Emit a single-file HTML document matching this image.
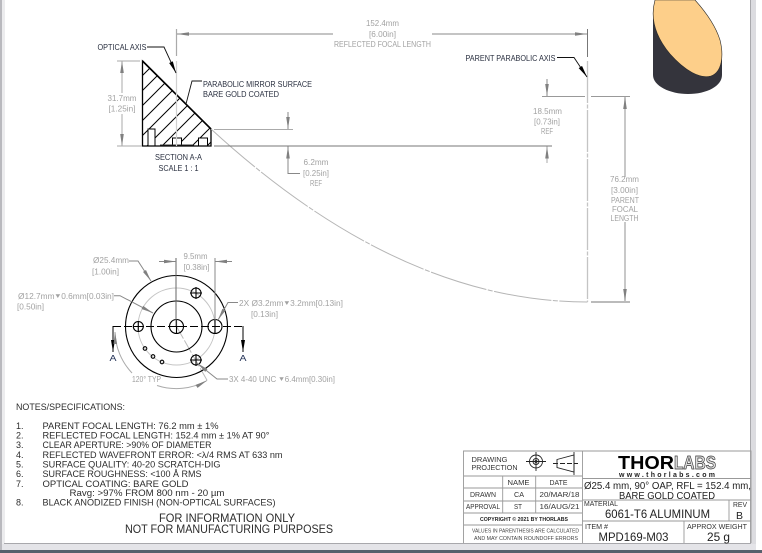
<!DOCTYPE html>
<html><head><meta charset="utf-8"><style>
html,body{margin:0;padding:0;background:#fff}
svg{display:block}
text{font-family:"Liberation Sans",sans-serif;font-size:8px}
.g text,text.g{fill:#a2a2a2}
.d text,text.d{fill:#2a3040}
.n text{font-size:9px;fill:#2c2c2c}
.t text{fill:#333}
</style></head><body>
<svg width="762" height="553" viewBox="0 0 762 553" xmlns="http://www.w3.org/2000/svg">
<defs>
<marker id="ag" viewBox="0 0 12 6" refX="12" refY="3" markerWidth="12" markerHeight="6" markerUnits="userSpaceOnUse" orient="auto-start-reverse"><path d="M0 1.2L12 3L0 4.8z" fill="#808080"/></marker>
<marker id="ak" viewBox="0 0 12 6" refX="12" refY="3" markerWidth="12" markerHeight="6" markerUnits="userSpaceOnUse" orient="auto"><path d="M0 1L12 3L0 5z" fill="#000"/></marker>
<pattern id="h" x="142" y="61" width="15" height="15" patternUnits="userSpaceOnUse"><path d="M-2 17L17 -2M-2 2L2 -2M13 17L17 13" stroke="#000" stroke-width="1"/></pattern>
</defs>
<rect width="762" height="553" fill="#fff"/>
<!-- window chrome -->
<rect x="0" y="0" width="2" height="553" fill="#b9b9be"/>
<rect x="2" y="0" width="3" height="545" fill="#ececee"/>
<rect x="751" y="0" width="5" height="545" fill="#dcdce0"/>
<rect x="750" y="0" width="1" height="544" fill="#a8a8ac"/>
<rect x="2" y="544" width="754" height="6" fill="#e4e4e8"/>
<rect x="4" y="543" width="747" height="1" fill="#a8a8ac"/>
<rect x="0" y="550" width="762" height="3" fill="#56606c"/>

<!-- section view -->
<path d="M142.5 61L211 129V146H142.5z" fill="url(#h)"/>
<rect x="148" y="129" width="7" height="17" fill="#fff" stroke="#000"/>
<rect x="172.5" y="138" width="9" height="8" fill="#fff" stroke="#000"/>
<rect x="198.5" y="138" width="9" height="8" fill="#fff" stroke="#000"/>
<rect x="160" y="144.5" width="34" height="2" fill="#333"/>
<path d="M142.5 61L211 129V146H142.5z" fill="none" stroke="#000" stroke-width="1.3"/>
<path d="M142.5 61L211 129" fill="none" stroke="#000" stroke-width="1.6"/>
<path d="M176.5 61V146" stroke="#d0d0d0" stroke-width="1.2"/>

<!-- parabola and axes -->
<path d="M211 129Q399.25 302 587.5 302" fill="none" stroke="#b5b5b5" stroke-width="1" stroke-dasharray="58 1.5 5 1.5"/>
<path d="M587.5 61V302" fill="none" stroke="#c4c4c4" stroke-width="1.3" stroke-dasharray="42 1.5 4 1.5"/>

<!-- dims grey -->
<g fill="none" stroke="#888" stroke-width="1">
<path d="M176.5 29V56" stroke="#aaa" stroke-width="1.2"/>
<path d="M587.5 29V57" stroke="#777"/>
<path d="M333 34H177" marker-end="url(#ag)"/>
<path d="M432 34H587" marker-end="url(#ag)"/>
<path d="M117 61H140M117 146H142" stroke="#aaa"/>
<path d="M122 93V61" stroke="#aaa" marker-end="url(#ag)"/>
<path d="M122 114V146" stroke="#aaa" marker-end="url(#ag)"/>
<path d="M214 129.5H293" stroke="#aaa"/>
<path d="M214 146H552" stroke="#777"/>
<path d="M288 112V129" marker-end="url(#ag)"/>
<path d="M300 173.5H288V146.5" marker-end="url(#ag)"/>
<path d="M542 96.5H585M591 96.5H630" stroke="#999"/>
<path d="M547 79V96" marker-end="url(#ag)"/>
<path d="M547 163V146.5" stroke="#aaa" marker-end="url(#ag)"/>
<path d="M625 97V177" stroke="#b0b0b0" stroke-width="1.4" marker-start="url(#ag)"/>
<path d="M625 222V301" stroke="#b0b0b0" stroke-width="1.4" marker-end="url(#ag)"/>
<path d="M591 302H630" stroke="#777"/>
</g>

<!-- dark leaders -->
<g fill="none" stroke="#111" stroke-width="0.9">
<path d="M147 47H164L176 73" marker-end="url(#ak)"/>
<path d="M202 81H192L186 104"/>
<path d="M557 57.5H574L587 77" marker-end="url(#ak)"/>
</g>

<!-- labels top -->
<g class="d">
<text x="97.5" y="50" textLength="49" lengthAdjust="spacingAndGlyphs">OPTICAL AXIS</text>
<text x="203" y="87" textLength="109" lengthAdjust="spacingAndGlyphs">PARABOLIC MIRROR SURFACE</text>
<text x="203" y="97" textLength="76" lengthAdjust="spacingAndGlyphs">BARE GOLD COATED</text>
<text x="155" y="160" textLength="47" lengthAdjust="spacingAndGlyphs">SECTION A-A</text>
<text x="158.5" y="171" textLength="40" lengthAdjust="spacingAndGlyphs">SCALE 1 : 1</text>
<text x="465.5" y="61" textLength="90" lengthAdjust="spacingAndGlyphs">PARENT PARABOLIC AXIS</text>
</g>
<g class="g">
<text x="366" y="26" textLength="33" lengthAdjust="spacingAndGlyphs">152.4mm</text>
<text x="369" y="37" textLength="27" lengthAdjust="spacingAndGlyphs">[6.00in]</text>
<text x="334" y="47" textLength="97" lengthAdjust="spacingAndGlyphs">REFLECTED FOCAL LENGTH</text>
<text x="107.5" y="101" textLength="29" lengthAdjust="spacingAndGlyphs">31.7mm</text>
<text x="108.5" y="111.5" textLength="27" lengthAdjust="spacingAndGlyphs">[1.25in]</text>
<text x="303.5" y="165" textLength="25" lengthAdjust="spacingAndGlyphs">6.2mm</text>
<text x="303" y="176" textLength="26" lengthAdjust="spacingAndGlyphs">[0.25in]</text>
<text x="310" y="186" textLength="12" lengthAdjust="spacingAndGlyphs">REF</text>
<text x="533" y="114" textLength="29" lengthAdjust="spacingAndGlyphs">18.5mm</text>
<text x="534" y="124.5" textLength="26" lengthAdjust="spacingAndGlyphs">[0.73in]</text>
<text x="541" y="134" textLength="12" lengthAdjust="spacingAndGlyphs">REF</text>
<text x="610" y="182" textLength="29" lengthAdjust="spacingAndGlyphs">76.2mm</text>
<text x="611" y="193" textLength="27" lengthAdjust="spacingAndGlyphs">[3.00in]</text>
<text x="611" y="203" textLength="28" lengthAdjust="spacingAndGlyphs">PARENT</text>
<text x="612" y="212" textLength="26" lengthAdjust="spacingAndGlyphs">FOCAL</text>
<text x="610.5" y="221" textLength="28" lengthAdjust="spacingAndGlyphs">LENGTH</text>
</g>

<!-- plan view -->
<circle cx="176.5" cy="326.5" r="38.5" fill="none" stroke="#c4c4c4" stroke-width="1"/>
<path d="M176.5 326.5L208 382" stroke="#bbb" stroke-width="1" stroke-dasharray="14 2"/>
<g fill="none" stroke="#000" stroke-width="1.1">
<circle cx="176.5" cy="326.5" r="51"/>
<circle cx="176.5" cy="326.5" r="25.5"/>
<circle cx="176.5" cy="326.5" r="7"/>
<circle cx="138.3" cy="326.5" r="5"/>
<circle cx="215" cy="326.5" r="7"/>
<circle cx="196" cy="293" r="5"/>
<circle cx="196" cy="360" r="5"/>
<circle cx="145" cy="348.5" r="1.8"/>
<circle cx="153" cy="356.5" r="1.8"/>
<circle cx="162" cy="362" r="1.8"/>
<path d="M169 326.5H184M176.5 319V334M133 326.5H144M138.3 321V332M190 293H202M196 287V299M190 360H202M196 354V366M215 319V334"/>
</g>
<path d="M113 326.5H243" stroke="#000" stroke-width="1.1" stroke-dasharray="8 3"/>
<path d="M113 326V352" stroke="#000" stroke-width="1" marker-end="url(#ak)"/>
<path d="M243 326V352" stroke="#000" stroke-width="1" marker-end="url(#ak)"/>
<text x="109.5" y="361" textLength="7" lengthAdjust="spacingAndGlyphs" style="fill:#1a2a50;font-size:8px">A</text>
<text x="239.5" y="361" textLength="7" lengthAdjust="spacingAndGlyphs" style="fill:#1a2a50;font-size:8px">A</text>
<g fill="none" stroke="#888" stroke-width="1">
<path d="M176 258V326" stroke="#666"/>
<path d="M215 258V320" stroke="#888"/>
<path d="M159 261.5H176" marker-end="url(#ag)"/>
<path d="M232 261.5H215" marker-end="url(#ag)"/>
<path d="M129 261H138L151 281" marker-end="url(#ag)"/>
<path d="M114 295.7H120L153 313" marker-end="url(#ag)"/>
<path d="M238 302.5H228L218 320" marker-end="url(#ag)"/>
<path d="M228 379H217L197 363" marker-end="url(#ag)"/>
<path d="M132 373A62 62 0 0 1 115 332" stroke="#aaa" marker-end="url(#ag)"/>
<path d="M157 385.5A62 62 0 0 0 207 380.5" stroke="#aaa" marker-end="url(#ag)"/>
</g>
<g class="g">
<text x="93" y="263" textLength="36" lengthAdjust="spacingAndGlyphs">Ø25.4mm</text>
<text x="92" y="274.5" textLength="27" lengthAdjust="spacingAndGlyphs">[1.00in]</text>
<text x="183.5" y="259" textLength="24" lengthAdjust="spacingAndGlyphs">9.5mm</text>
<text x="183.5" y="270" textLength="26" lengthAdjust="spacingAndGlyphs">[0.38in]</text>
<text x="18" y="299" textLength="96" lengthAdjust="spacingAndGlyphs">Ø12.7mm⯆0.6mm[0.03in]</text>
<text x="17" y="309.5" textLength="27" lengthAdjust="spacingAndGlyphs">[0.50in]</text>
<text x="239" y="306" textLength="104" lengthAdjust="spacingAndGlyphs">2X Ø3.2mm⯆3.2mm[0.13in]</text>
<text x="251" y="317" textLength="27" lengthAdjust="spacingAndGlyphs">[0.13in]</text>
<text x="229" y="382" textLength="106" lengthAdjust="spacingAndGlyphs">3X 4-40 UNC ⯆6.4mm[0.30in]</text>
<text x="132" y="382" textLength="29" lengthAdjust="spacingAndGlyphs">120° TYP</text>
</g>

<!-- notes -->
<g class="n">
<text x="16" y="410" textLength="109" lengthAdjust="spacingAndGlyphs">NOTES/SPECIFICATIONS:</text>
<text x="16" y="429">1.</text>
<text x="16" y="438.5">2.</text>
<text x="16" y="448">3.</text>
<text x="16" y="458">4.</text>
<text x="16" y="467.5">5.</text>
<text x="16" y="477">6.</text>
<text x="16" y="487">7.</text>
<text x="16" y="505.5">8.</text>
<text x="42.5" y="429" textLength="176" lengthAdjust="spacingAndGlyphs">PARENT FOCAL LENGTH: 76.2 mm ± 1%</text>
<text x="42.5" y="438.5" textLength="227" lengthAdjust="spacingAndGlyphs">REFLECTED FOCAL LENGTH: 152.4 mm ± 1% AT 90°</text>
<text x="42.5" y="448" textLength="169" lengthAdjust="spacingAndGlyphs">CLEAR APERTURE: &gt;90% OF DIAMETER</text>
<text x="42.5" y="458" textLength="240" lengthAdjust="spacingAndGlyphs">REFLECTED WAVEFRONT ERROR: &lt;λ/4 RMS AT 633 nm</text>
<text x="42.5" y="467.5" textLength="178" lengthAdjust="spacingAndGlyphs">SURFACE QUALITY: 40-20 SCRATCH-DIG</text>
<text x="42.5" y="477" textLength="159" lengthAdjust="spacingAndGlyphs">SURFACE ROUGHNESS: &lt;100 Å RMS</text>
<text x="42.5" y="487" textLength="146" lengthAdjust="spacingAndGlyphs">OPTICAL COATING: BARE GOLD</text>
<text x="69.5" y="496" textLength="155" lengthAdjust="spacingAndGlyphs">Ravg: &gt;97% FROM 800 nm - 20 µm</text>
<text x="42.5" y="505.5" textLength="233" lengthAdjust="spacingAndGlyphs">BLACK ANODIZED FINISH (NON-OPTICAL SURFACES)</text>
<text x="159" y="522" textLength="136" lengthAdjust="spacingAndGlyphs" style="font-size:12px">FOR INFORMATION ONLY</text>
<text x="125" y="533" textLength="208" lengthAdjust="spacingAndGlyphs" style="font-size:12px">NOT FOR MANUFACTURING PURPOSES</text>
</g>

<!-- title block -->
<g fill="none" stroke="#999" stroke-width="0.9">
<path d="M463.5 543V451H751V543"/>
<path d="M582.5 451V543"/>
<path d="M464 476H582M464 488H582M464 501H582M464 513H582M464 525H582"/>
<path d="M502.7 476V513M535.7 476V513"/>
<path d="M582.5 478.5H751M582.5 500H751M582.5 521H751"/>
<path d="M729 500V521M684 521V543"/>
</g>
<g fill="none" stroke="#222" stroke-width="0.9">
<circle cx="536" cy="461.5" r="6.5"/><circle cx="536" cy="461.5" r="3"/>
<circle cx="536" cy="461.5" r="1" fill="#222"/>
<path d="M526 461.5H546M536 452V471"/>
<path d="M557 459.5L574 455V472L557 467.5z"/>
<path d="M574 452V475"/>
<path d="M553 463.5H578" stroke-dasharray="5 2"/>
</g>
<g class="t">
<text x="471.5" y="462" textLength="36" lengthAdjust="spacingAndGlyphs" style="font-size:7.5px">DRAWING</text>
<text x="471.5" y="470" textLength="46" lengthAdjust="spacingAndGlyphs" style="font-size:7.5px">PROJECTION</text>
<text x="507.5" y="485" textLength="22" lengthAdjust="spacingAndGlyphs" style="font-size:7.5px">NAME</text>
<text x="549.5" y="485" textLength="18" lengthAdjust="spacingAndGlyphs" style="font-size:7.5px">DATE</text>
<text x="470" y="497" textLength="26" lengthAdjust="spacingAndGlyphs" style="font-size:7px">DRAWN</text>
<text x="514" y="497" textLength="10" lengthAdjust="spacingAndGlyphs" style="font-size:7.5px">CA</text>
<text x="539.5" y="497" textLength="40" lengthAdjust="spacingAndGlyphs" style="font-size:7.5px">20/MAR/18</text>
<text x="466" y="509" textLength="34" lengthAdjust="spacingAndGlyphs" style="font-size:7px">APPROVAL</text>
<text x="514" y="509" textLength="8" lengthAdjust="spacingAndGlyphs" style="font-size:7.5px">ST</text>
<text x="539.5" y="509" textLength="40" lengthAdjust="spacingAndGlyphs" style="font-size:7.5px">16/AUG/21</text>
<text x="480" y="521" textLength="88" lengthAdjust="spacingAndGlyphs" style="fill:#222;font-size:5.5px;font-weight:bold">COPYRIGHT © 2021 BY THORLABS</text>
<text x="472" y="532.5" textLength="107" lengthAdjust="spacingAndGlyphs" style="fill:#444;font-size:5.5px">VALUES IN PARENTHESIS ARE CALCULATED</text>
<text x="474" y="540" textLength="104" lengthAdjust="spacingAndGlyphs" style="fill:#444;font-size:5.5px">AND MAY CONTAIN ROUNDOFF ERRORS</text>
<text x="618" y="469" textLength="56" lengthAdjust="spacingAndGlyphs" style="fill:#000;font-size:18px;font-weight:bold">THOR</text>
<text x="674" y="469" textLength="42" lengthAdjust="spacingAndGlyphs" style="fill:#ddd;stroke:#333;stroke-width:.7;font-size:18px;font-weight:bold">LABS</text>
<text x="619" y="477" textLength="96" style="fill:#222;font-size:7px;font-weight:bold">www.thorlabs.com</text>
<text x="584" y="489" textLength="167" lengthAdjust="spacingAndGlyphs" style="fill:#222;font-size:10px">Ø25.4 mm, 90° OAP, RFL = 152.4 mm,</text>
<text x="619" y="499" textLength="96" lengthAdjust="spacingAndGlyphs" style="fill:#222;font-size:10px">BARE GOLD COATED</text>
<text x="584" y="506" textLength="34" lengthAdjust="spacingAndGlyphs" style="font-size:7px">MATERIAL</text>
<text x="605" y="518" textLength="105" lengthAdjust="spacingAndGlyphs" style="fill:#222;font-size:12px">6061-T6 ALUMINUM</text>
<text x="733" y="507" textLength="14" lengthAdjust="spacingAndGlyphs" style="font-size:7px">REV</text>
<text x="736" y="519" style="fill:#222;font-size:10.5px">B</text>
<text x="585" y="529" textLength="23" lengthAdjust="spacingAndGlyphs" style="font-size:7px">ITEM #</text>
<text x="598.5" y="541" textLength="70" lengthAdjust="spacingAndGlyphs" style="fill:#222;font-size:12px">MPD169-M03</text>
<text x="687" y="529" textLength="60" lengthAdjust="spacingAndGlyphs" style="font-size:7px">APPROX WEIGHT</text>
<text x="707" y="541" textLength="23" lengthAdjust="spacingAndGlyphs" style="fill:#222;font-size:12px">25 g</text>
</g>

<!-- 3D render -->
<path d="M653 15V75C653 86 670 94 688 94C707 94 722 86 722 75V50L700 40Z" fill="#34343c"/>
<path d="M655 0C650 18 655 36 670 54C685 71 700 79 711 76C722 72 724 56 720 40C715 24 704 10 695 0Z" fill="#fdcf8a" stroke="#2a2a2a" stroke-width="0.6"/>
</svg>
</body></html>
